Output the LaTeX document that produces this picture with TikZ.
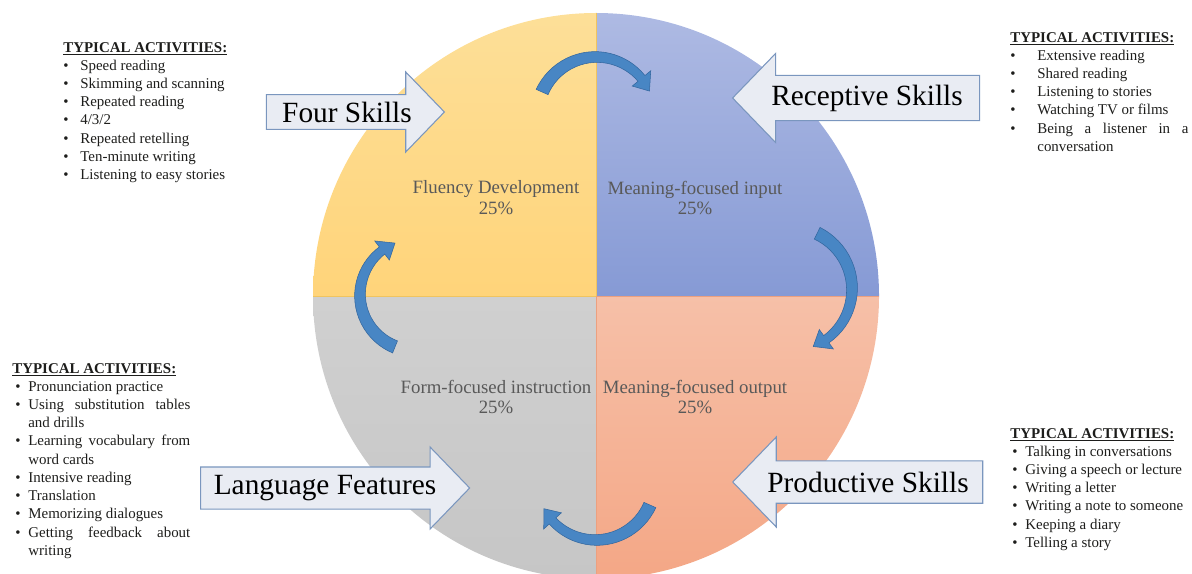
\documentclass[tikz,border=0pt]{standalone}
\usepackage{fontspec}
\setmainfont{Liberation Serif}
\usepackage{array}
\usetikzlibrary{positioning,shapes.arrows}
\definecolor{colorfluencytop}  {RGB}{253,223,152}
\definecolor{colorfluency}     {RGB}{255,212,122}
\definecolor{colorfluencyline} {RGB}{240,196,96 }
\definecolor{colorinputtop}    {RGB}{174,186,227}
\definecolor{colorinput}       {RGB}{134,154,213}
\definecolor{colorformtop}     {RGB}{208,208,208}
\definecolor{colorform}        {RGB}{198,198,198}
\definecolor{coloroutputtop}   {RGB}{246,192,168}
\definecolor{coloroutput}      {RGB}{244,167,134}
\definecolor{coloroutputline}  {RGB}{236,160,128}
\definecolor{colorlabel}       {RGB}{89 ,89 ,89 }
\definecolor{colortext}        {RGB}{29 ,29 ,27 }
\definecolor{colorskill}       {RGB}{233,236,243}
\definecolor{colorskillline}   {RGB}{122,150,190}
\definecolor{colorcycle}       {RGB}{72 ,134,196}
\definecolor{colorcycleline}   {RGB}{50 ,102,158}

\newlength\pxu
\setlength\pxu{0.02cm}
\hyphenpenalty=10000

\newcommand\actheader{\multicolumn{2}{@{}l@{}}{\underline{\textbf{TYPICAL ACTIVITIES:}}}}

% tapered curved arrow: centre x, centre y, radius, tail angle, tip angle
\newcommand\cyclearrow[5]{%
  \begin{scope}[shift={(#1,#2)}]
    \pgfmathsetmacro\tailang{#4}
    \pgfmathsetmacro\headang{#5+15*57.3/#3}
    \filldraw[fill=colorcycle,draw=colorcycleline,line width=0.3pt]
      plot[domain=\tailang:\headang,samples=25] (\x:{#3+6.5-2*(\x-\tailang)/(\headang-\tailang)})
      -- (\headang:{#3+12}) -- (#5:#3) -- (\headang:{#3-12})
      -- plot[domain=\headang:\tailang,samples=25] (\x:{#3-6.5+2*(\x-\tailang)/(\headang-\tailang)})
      -- cycle;
  \end{scope}}

\begin{document}
\begin{tikzpicture}[
    x=0.02cm, y=0.02cm,
    quarter/.style={text=colorlabel,font={\fontsize{10.7}{11.9}\selectfont},align=center,inner sep=0pt},
    skill/.style={single arrow,draw=colorskillline,fill=colorskill,line width=0.6pt,
        font={\fontsize{16.7}{18}\selectfont},inner xsep=1pt,single arrow tip angle=92},
    activity/.style={anchor=north west,inner sep=0pt,text=colortext,font={\fontsize{8.5}{10.37}\selectfont}},
]

    \useasboundingbox (0,0) rectangle (1192,-574);
    \coordinate (centre) at (596,-296);

    % Quadrants
    \begin{scope}
        \clip (0,0) rectangle (1192,-574);
        \shade[top color=colorfluencytop,bottom color=colorfluency] (centre) -- (313,-296) arc[start angle=180,end angle=90,radius=283] -- cycle;
        \shade[top color=colorinputtop,bottom color=colorinput] (centre) -- (596,-13) arc[start angle=90,end angle=0,radius=283] -- cycle;
        \shade[top color=coloroutputtop,bottom color=coloroutput] (centre) -- (879,-296) arc[start angle=0,end angle=-90,radius=283] -- cycle;
        \shade[top color=colorformtop,bottom color=colorform] (centre) -- (596,-579) arc[start angle=270,end angle=180,radius=283] -- cycle;
        \draw[colorfluencyline] (596,-13) -- (centre) -- (313,-296);
        \draw[coloroutputline] (879,-296) -- (centre) -- (596,-574);
    \end{scope}

    % Labels
    \node[quarter] (fluency) at (496,-198) {Fluency Development\\25\%};
    \node[quarter] (input)   at (695,-198) {Meaning-focused input\\25\%};
    \node[quarter] (form)    at (496,-397) {Form-focused instruction\\25\%};
    \node[quarter] (output)  at (695,-397) {Meaning-focused output\\25\%};

    % Cycle arrows
    \cyclearrow{596}{-116}{59}{156}{25}
    \cyclearrow{790}{-289}{62}{64}{-68}
    \cyclearrow{596}{-481}{59}{-24}{-152}
    \cyclearrow{416}{-295}{56}{248}{112}

    % Skill arrows
    \node[skill,inner ysep=3pt,minimum height=178\pxu,minimum width=80\pxu,single arrow head extend=21\pxu] (four) at (347,-112) {Four Skills};
    \node[skill,inner ysep=5pt,shape border rotate=180,minimum height=247\pxu,minimum width=88\pxu,single arrow head extend=22\pxu] (receptive) at (867,-98) {Receptive Skills};
    \node[skill,inner ysep=4.4pt,minimum height=269\pxu,minimum width=82\pxu,single arrow head extend=20\pxu] (language) at (325,-488) {Language Features};
    \node[skill,inner ysep=5pt,shape border rotate=180,minimum height=250\pxu,minimum width=90\pxu,single arrow head extend=22\pxu] (productive) at (868,-482) {Productive Skills};

    % Activities
    \node[activity] (fourlist) at (63,-39) {\begin{tabular}{@{}p{17\pxu}@{}l@{}}
        \actheader\\
        \textbullet & Speed reading\\
        \textbullet & Skimming and scanning\\
        \textbullet & Repeated reading\\
        \textbullet & 4/3/2\\
        \textbullet & Repeated retelling\\
        \textbullet & Ten-minute writing\\
        \textbullet & Listening to easy stories
    \end{tabular}};
    \node[activity] (receptivelist) at (1010,-29) {\begin{tabular}{@{}p{27\pxu}@{}p{151\pxu}@{}}
        \actheader\\
        \textbullet & Extensive reading\\
        \textbullet & Shared reading\\
        \textbullet & Listening to stories\\
        \textbullet & Watching TV or films\\
        \textbullet & Being a listener in a conversation
    \end{tabular}};
    \node[activity] (languagelist) at (12,-360) {\begin{tabular}{@{}p{16\pxu}@{}p{162\pxu}@{}}
        \actheader\\
        \hspace*{3\pxu}\textbullet & Pronunciation practice\\
        \hspace*{3\pxu}\textbullet & Using substitution tables and drills\\
        \hspace*{3\pxu}\textbullet & Learning vocabulary from word cards\\
        \hspace*{3\pxu}\textbullet & Intensive reading\\
        \hspace*{3\pxu}\textbullet & Translation\\
        \hspace*{3\pxu}\textbullet & Memorizing dialogues\\
        \hspace*{3\pxu}\textbullet & Getting feedback about writing
    \end{tabular}};
    \node[activity] (productivelist) at (1010,-425) {\begin{tabular}{@{}p{15\pxu}@{}l@{}}
        \actheader\\
        \hspace*{2\pxu}\textbullet & Talking in conversations\\
        \hspace*{2\pxu}\textbullet & Giving a speech or lecture\\
        \hspace*{2\pxu}\textbullet & Writing a letter\\
        \hspace*{2\pxu}\textbullet & Writing a note to someone\\
        \hspace*{2\pxu}\textbullet & Keeping a diary\\
        \hspace*{2\pxu}\textbullet & Telling a story
    \end{tabular}};

\end{tikzpicture}
\end{document}
